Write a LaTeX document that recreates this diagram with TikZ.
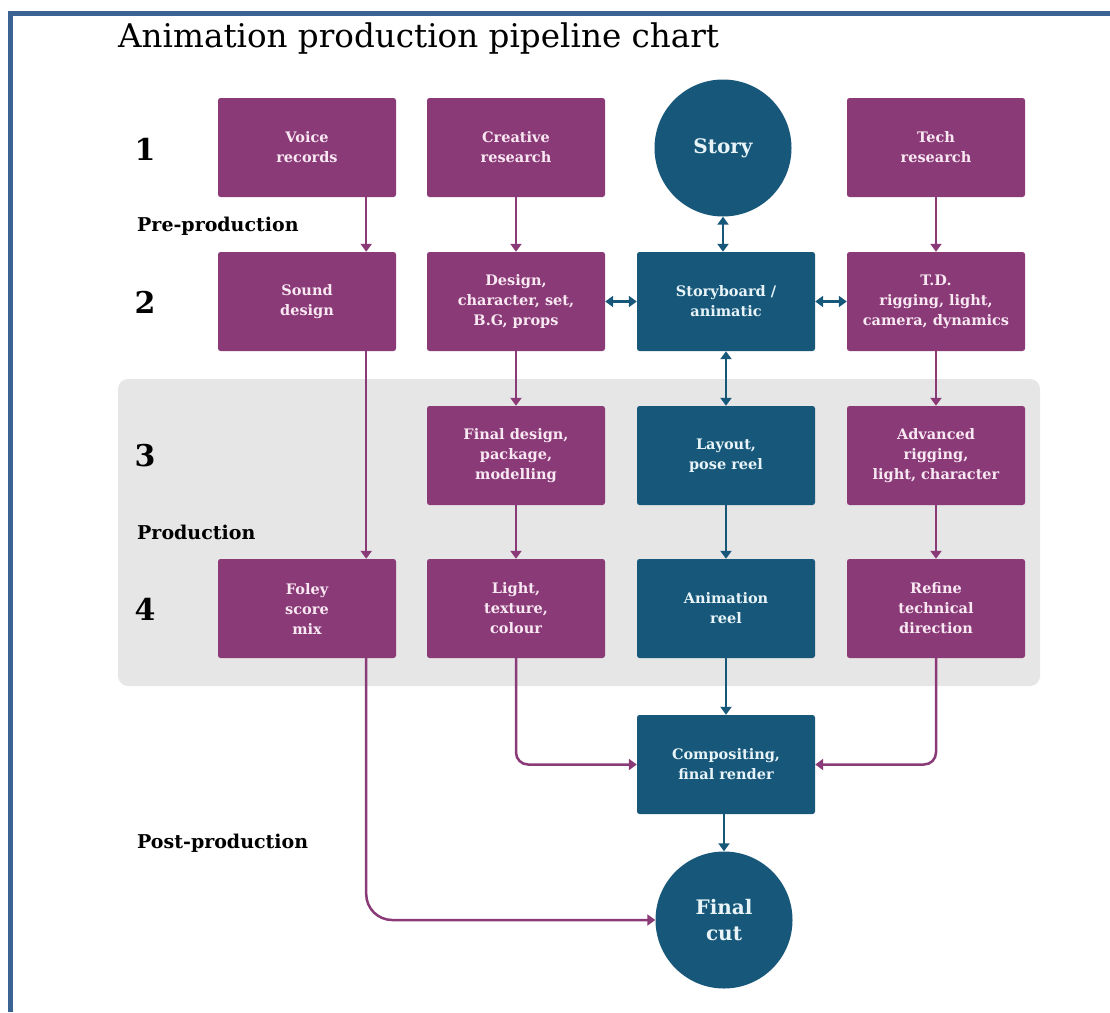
\documentclass[tikz,border=0pt]{standalone}
\usepackage{fontspec}
\usetikzlibrary{arrows.meta}
\newfontfamily\slab{DejaVu Serif}
\definecolor{plum}{HTML}{8A3A77}
\definecolor{deepteal}{HTML}{17587A}
\definecolor{plumtext}{HTML}{F8E8F2}
\definecolor{tealtext}{HTML}{E8F4F8}
\definecolor{panelgrey}{HTML}{E6E6E6}
\definecolor{framecol}{HTML}{3A6293}
\tikzset{
  >={Triangle[width=11pt,length=8pt]},
  pbox/.style={rectangle, rounded corners=2.5pt, fill=plum, text=plumtext,
    minimum width=178pt, minimum height=99pt, inner sep=0pt, align=center,
    font={\slab\bfseries\fontsize{14.5}{20}\selectfont}},
  tbox/.style={pbox, fill=deepteal, text=tealtext},
  tcirc/.style={circle, fill=deepteal, text=tealtext, minimum size=137pt,
    inner sep=0pt, align=center},
  parr/.style={draw=plum, line width=2.5pt, ->},
  tarr/.style={draw=deepteal, line width=2.5pt, ->},
  tdbl/.style={draw=deepteal, line width=2.5pt, <->},
  rowno/.style={inner sep=0pt, font={\slab\bfseries\fontsize{30}{30}\selectfont}, text=black},
  phase/.style={anchor=base west, inner sep=0pt, font={\slab\bfseries\fontsize{19}{19}\selectfont}, text=black},
}
\begin{document}
\begin{tikzpicture}[x=1pt,y=-1pt]
\useasboundingbox (0,0) rectangle (1110,1012);
% page frame
\fill[framecol] (8,11) rectangle (1110,16);
\fill[framecol] (8,11) rectangle (13,1012);
% production panel
\fill[panelgrey, rounded corners=10pt] (118,379) rectangle (1040,686);

\node[anchor=base west, inner sep=0pt, font={\slab\fontsize{32.6}{32.6}\selectfont}] (title) at (118,47)
  {Animation production pipeline chart};

% row numbers and phase labels
\node[rowno] (n1) at (145,149) {1};
\node[rowno] (n2) at (145,302) {2};
\node[rowno] (n3) at (145,456) {3};
\node[rowno] (n4) at (145,609) {4};
\node[phase] (pre)  at (137,231) {Pre-production};
\node[phase] (prod) at (137,539) {Production};
\node[phase] (post) at (137,848) {Post-production};

% row 1
\node[pbox] (voice)    at (307,147.5) {Voice\\records};
\node[pbox] (creative) at (516,147.5) {Creative\\research};
\node[tcirc, font={\slab\bfseries\fontsize{20}{20}\selectfont}] (story) at (723,148) {Story};
\node[pbox] (tech)     at (936,147.5) {Tech\\research};
% row 2
\node[pbox] (sound)  at (307,301.5) {Sound\\design};
\node[pbox] (design) at (516,301.5) {Design,\\character, set,\\B.G, props};
\node[tbox] (board)  at (726,301.5) {Storyboard /\\animatic};
\node[pbox] (td)     at (936,301.5) {T.D.\\rigging, light,\\camera, dynamics};
% row 3
\node[pbox] (fdesign) at (516,455.5) {Final design,\\package,\\modelling};
\node[tbox] (layout)  at (726,455.5) {Layout,\\pose reel};
\node[pbox] (adv)     at (936,455.5) {Advanced\\rigging,\\light, character};
% row 4
\node[pbox] (foley)  at (307,608.5) {Foley\\score\\mix};
\node[pbox] (light)  at (516,608.5) {Light,\\texture,\\colour};
\node[tbox] (anim)   at (726,608.5) {Animation\\reel};
\node[pbox] (refine) at (936,608.5) {Refine\\technical\\direction};
% post-production
\node[tbox] (comp)  at (726,764.5) {Compositing,\\final render};
\node[tcirc, font={\slab\bfseries\fontsize{20}{26}\selectfont}] (final) at (724,920) {Final\\cut};

% sound track
\draw[parr] ([xshift=-30pt]voice.south east) -- ([xshift=-30pt]sound.north east);
\draw[parr] ([xshift=-30pt]sound.south east) -- ([xshift=-30pt]foley.north east);
\draw[parr, rounded corners=26pt] ([xshift=-30pt]foley.south east) |- (final.west);
% design track
\draw[parr] (creative) -- (design);
\draw[parr] (design) -- (fdesign);
\draw[parr] (fdesign) -- (light);
\draw[parr, rounded corners=12pt] (light.south) |- (comp.west);
% technical track
\draw[parr] (tech) -- (td);
\draw[parr] (td) -- (adv);
\draw[parr] (adv) -- (refine);
\draw[parr, rounded corners=12pt] (refine.south) |- (comp.east);
% story track
\draw[tdbl] (story.south) -- (story.south |- board.north);
\draw[tdbl] (design.east) -- (board.west);
\draw[tdbl] (board.east) -- (td.west);
\draw[tdbl] (board) -- (layout);
\draw[tarr] (layout) -- (anim);
\draw[tarr] (anim) -- (comp);
\draw[tarr] (final.north |- comp.south) -- (final.north);
\end{tikzpicture}
\end{document}
